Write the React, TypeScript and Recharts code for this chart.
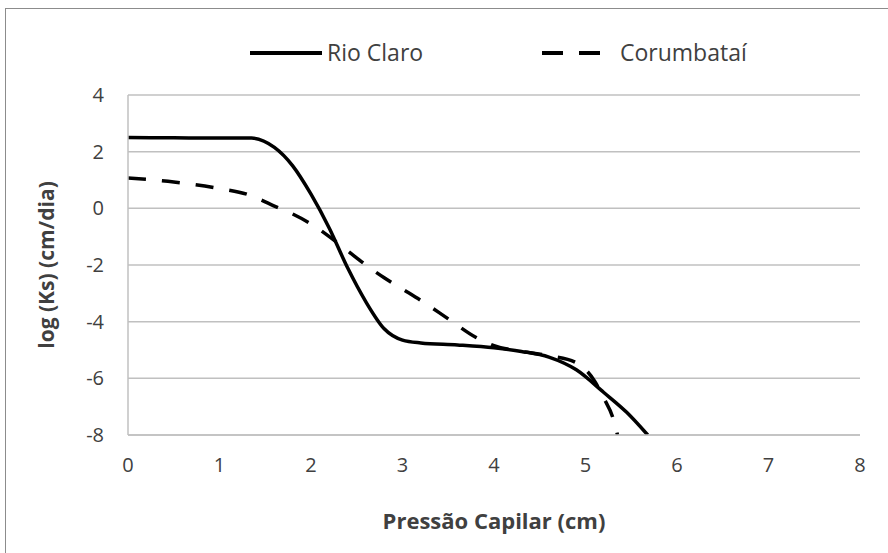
import { LineChart, Line, XAxis, YAxis, CartesianGrid } from 'recharts';

const xTicks = [0, 1, 2, 3, 4, 5, 6, 7, 8];
const yTicks = [-8, -6, -4, -2, 0, 2, 4];

const rioClaroX = [0, 0.5, 1.0, 1.35, 1.6, 1.8, 2.0, 2.2, 2.4, 2.6, 2.8, 3.0, 3.2, 3.6, 4.0, 4.3, 4.6, 4.9, 5.2, 5.45, 5.68];
const rioClaroY = [2.5, 2.49, 2.48, 2.48, 2.15, 1.5, 0.5, -0.7, -2.1, -3.3, -4.25, -4.65, -4.75, -4.82, -4.92, -5.05, -5.25, -5.7, -6.5, -7.2, -8];

const corumbataiX = [0, 0.5, 1.0, 1.3, 1.6, 1.8, 2.0, 2.2, 2.4, 2.6, 2.8, 3.0, 3.2, 3.5, 3.8, 4.0, 4.3, 4.6, 4.9, 5.1, 5.2, 5.3, 5.35];
const corumbataiY = [1.07, 0.93, 0.7, 0.5, 0.08, -0.2, -0.55, -1.0, -1.5, -2.0, -2.45, -2.85, -3.25, -3.9, -4.55, -4.85, -5.05, -5.2, -5.45, -6.1, -6.7, -7.4, -8];

const rioClaro = rioClaroX.map((x, i) => ({ x, y: rioClaroY[i] }));
const corumbatai = corumbataiX.map((x, i) => ({ x, y: corumbataiY[i] }));

const font = '"Open Sans", sans-serif';
const textColor = '#404040';
const dash = '18 16';

const LegendBox = () => (
  <div style={{ fontFamily: font, fontSize: 23, color: textColor }}>
    <svg width={72} height={10} style={{ position: 'absolute', left: 250, top: 48 }}>
      <line x1={0} y1={5} x2={72} y2={5} stroke="#000" strokeWidth={4} />
    </svg>
    <span style={{ position: 'absolute', left: 327, top: 36, lineHeight: '32px' }}>Rio Claro</span>
    <svg width={58} height={10} style={{ position: 'absolute', left: 542, top: 48 }}>
      <line x1={0} y1={5} x2={58} y2={5} stroke="#000" strokeWidth={4} strokeDasharray="21 16" />
    </svg>
    <span style={{ position: 'absolute', left: 620, top: 36, lineHeight: '32px' }}>Corumbataí</span>
  </div>
);

export default function App() {
  return (
    <div style={{ position: 'absolute', left: 0, top: 0, width: 888, height: 553, overflow: 'hidden', background: '#fff' }}>
      <div style={{ position: 'absolute', left: 5, top: 8, width: 900, height: 580, border: '1px solid #8c8c8c' }} />
      <div style={{ position: 'absolute', left: 0, top: 0 }}>
        <LineChart width={888} height={553} margin={{ top: 95, right: 28, bottom: 88, left: 68 }}>
          <CartesianGrid vertical={false} stroke="#c0c0c0" strokeWidth={1.5} />
          <XAxis
            type="number"
            dataKey="x"
            domain={[0, 8]}
            ticks={xTicks}
            allowDataOverflow
            stroke="#c0c0c0"
            strokeWidth={1.5}
            tickLine={false}
            tickMargin={17}
            tick={{ fill: textColor, fontSize: 20, fontFamily: font }}
            label={{ value: 'Pressão Capilar (cm)', position: 'insideBottom', offset: -64, fill: textColor, fontSize: 22, fontWeight: 'bold', fontFamily: font }}
          />
          <YAxis
            type="number"
            domain={[-8, 4]}
            ticks={yTicks}
            allowDataOverflow
            width={60}
            stroke="#c0c0c0"
            strokeWidth={1.5}
            tickLine={false}
            tickMargin={18}
            tick={{ fill: textColor, fontSize: 20, fontFamily: font }}
            label={{ value: 'log (Ks)  (cm/dia)', angle: -90, position: 'center', dx: -51, fill: textColor, fontSize: 21, fontWeight: 'bold', fontFamily: font }}
          />
          <Line data={rioClaro} dataKey="y" name="Rio Claro" type="monotone" stroke="#000" strokeWidth={3.5} dot={false} isAnimationActive={false} />
          <Line data={corumbatai} dataKey="y" name="Corumbataí" type="monotone" stroke="#000" strokeWidth={3.5} strokeDasharray={dash} dot={false} isAnimationActive={false} />
        </LineChart>
      </div>
      <LegendBox />
    </div>
  );
}
